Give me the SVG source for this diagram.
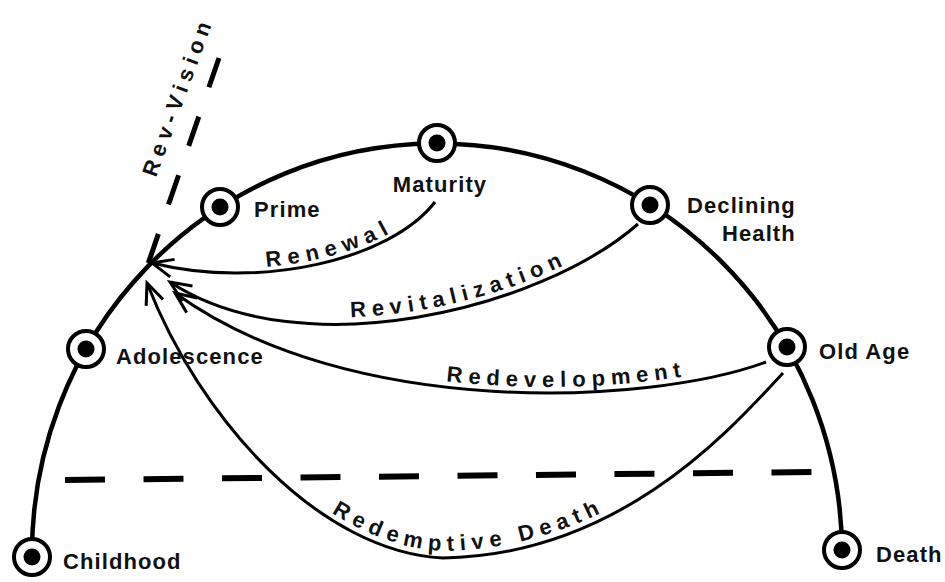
<svg xmlns="http://www.w3.org/2000/svg" width="945" height="582" viewBox="0 0 945 582">
<style>
.arc{fill:none;stroke:#000;stroke-width:4.5}
.con{fill:none;stroke:#000;stroke-width:3}
.dash{fill:none;stroke:#000;stroke-width:6}
.ring{fill:#fff;stroke:#000;stroke-width:4}
.dot{fill:#000}
.lbl{font-family:"Liberation Sans",Arial,sans-serif;font-weight:bold;font-size:22px;letter-spacing:1.1px;fill:#111}
.clbl{font-family:"Liberation Sans",Arial,sans-serif;font-weight:bold;font-size:22px;letter-spacing:6px;fill:#111}
</style>
<defs>
<marker id="ah" viewBox="-24 -12 28 24" refX="0" refY="0" markerWidth="28" markerHeight="24" markerUnits="userSpaceOnUse" orient="auto">
<path d="M -21 -9 L 0 0 L -21 9" fill="none" stroke="#000" stroke-width="3"/>
</marker>
<path id="tp-renewal" d="M 152 258 C 260 285, 390 255, 435 197"/>
<path id="tp-revital" d="M 170 276 C 300 360, 540 304, 638 218"/>
<path id="tp-redev" d="M 175 287 C 350 414, 650 399, 766 356"/>
<path id="tp-redeath" d="M 147 276 C 200 413, 320 545, 443 551 C 620 548, 730 423, 783 366"/>
</defs>

<path class="arc" d="M 32 557 A 405 410 0 0 1 842 550"/>

<g id="connectors">
<path class="con" marker-end="url(#ah)" d="M 435 202 C 390 260, 260 290, 152 263"/>
<path class="con" marker-end="url(#ah)" d="M 638 224 C 540 310, 300 368, 170 282"/>
<path class="con" marker-end="url(#ah)" d="M 766 362 C 650 405, 350 420, 175 293"/>
<path class="con" marker-end="url(#ah)" d="M 783 373 C 730 430, 620 555, 443 558 C 320 552, 200 420, 147 283"/>
<line class="dash" x1="219" y1="58" x2="148" y2="264" stroke-dasharray="31 31" style="stroke-width:5"/>
<line class="dash" x1="65" y1="480" x2="812" y2="472" stroke-dasharray="40 38.5"/>
</g>

<g id="connector-labels">
<text class="clbl" style="letter-spacing:6.5px"><textPath href="#tp-renewal" startOffset="115">Renewal</textPath></text>
<text class="clbl"><textPath href="#tp-revital" startOffset="188">Revitalization</textPath></text>
<text class="clbl"><textPath href="#tp-redev" startOffset="290">Redevelopment</textPath></text>
<text class="clbl"><textPath href="#tp-redeath" startOffset="305">Redemptive Death</textPath></text>
<text class="clbl" style="letter-spacing:5.5px" transform="translate(156 178) rotate(-70)">Rev-Vision</text>
</g>

<g id="childhood"><circle class="ring" cx="32" cy="557" r="18"/><circle class="dot" cx="32" cy="557" r="8.5"/><text class="lbl" x="63" y="569">Childhood</text></g>
<g id="adolescence"><circle class="ring" cx="86" cy="349" r="18"/><circle class="dot" cx="86" cy="349" r="8.5"/><text class="lbl" x="116" y="364">Adolescence</text></g>
<g id="prime"><circle class="ring" cx="220" cy="207" r="18"/><circle class="dot" cx="220" cy="207" r="8.5"/><text class="lbl" x="254" y="217">Prime</text></g>
<g id="maturity"><circle class="ring" cx="437" cy="143" r="18"/><circle class="dot" cx="437" cy="143" r="8.5"/><text class="lbl" x="440" y="192" text-anchor="middle">Maturity</text></g>
<g id="declining-health"><circle class="ring" cx="650" cy="205" r="18"/><circle class="dot" cx="650" cy="205" r="8.5"/><text class="lbl" x="687" y="213">Declining</text><text class="lbl" x="722" y="241">Health</text></g>
<g id="old-age"><circle class="ring" cx="787" cy="347" r="18"/><circle class="dot" cx="787" cy="347" r="8.5"/><text class="lbl" x="819" y="359">Old Age</text></g>
<g id="death"><circle class="ring" cx="842" cy="550" r="18"/><circle class="dot" cx="842" cy="550" r="8.5"/><text class="lbl" x="876" y="562">Death</text></g>
</svg>
